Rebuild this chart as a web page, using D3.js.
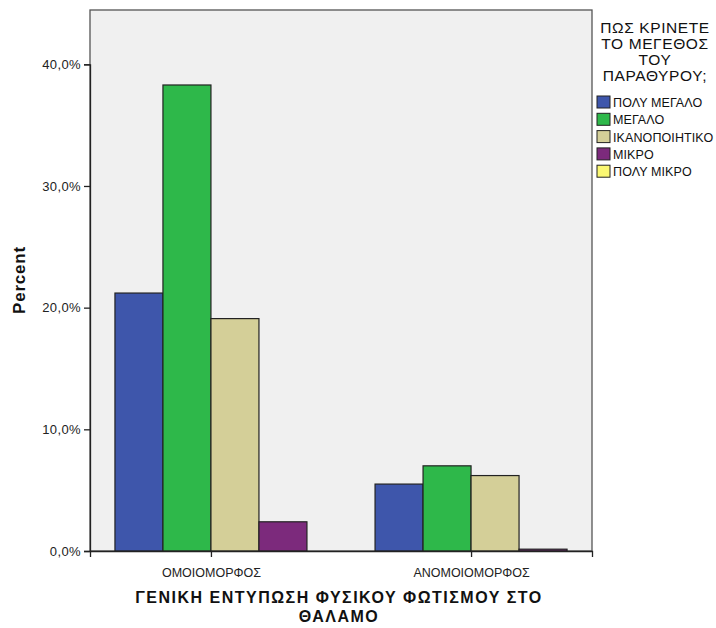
<!DOCTYPE html>
<html>
<head>
<meta charset="utf-8">
<script src="https://cdn.jsdelivr.net/npm/d3@7"></script>
<style>
  html, body { margin: 0; padding: 0; background: #fff; }
  svg { display: block; font-family: "Liberation Sans", Arial, sans-serif; }
</style>
</head>
<body>
<svg id="chart" width="716" height="628"></svg>
<script>
// Categories on the x axis
const categories = ["ΟΜΟΙΟΜΟΡΦΟΣ", "ΑΝΟΜΟΙΟΜΟΡΦΟΣ"];
// Series (answers to the legend question)
const seriesNames = ["ΠΟΛΥ ΜΕΓΑΛΟ", "ΜΕΓΑΛΟ", "ΙΚΑΝΟΠΟΙΗΤΙΚΟ", "ΜΙΚΡΟ", "ΠΟΛΥ ΜΙΚΡΟ"];
const seriesColors = ["#3e56ab", "#2eb84a", "#d4cf98", "#7c2a7c", "#fbf872"];
// Percent values per series, one entry per category (null = no bar)
const polyMegalo = [21.2, 5.5];
const megalo = [38.3, 7.0];
const ikanopoiitiko = [19.1, 6.2];
const mikro = [2.4, 0.15];
const polyMikro = [null, null];
const seriesValues = [polyMegalo, megalo, ikanopoiitiko, mikro, polyMikro];
// Axis ticks
const yTicks = [0, 10, 20, 30, 40];
const legendTitle = ["ΠΩΣ ΚΡΙΝΕΤΕ", "ΤΟ ΜΕΓΕΘΟΣ", "ΤΟΥ", "ΠΑΡΑΘΥΡΟΥ;"];
const xTitle = ["ΓΕΝΙΚΗ ΕΝΤΥΠΩΣΗ ΦΥΣΙΚΟΥ ΦΩΤΙΣΜΟΥ ΣΤΟ", "ΘΑΛΑΜΟ"];
const yTitle = "Percent";

const svg = d3.select("#chart");
const plot = { left: 90, top: 10, right: 592, bottom: 551 };

const y = d3.scaleLinear().domain([0, 40]).range([plot.bottom, 64.3]);
const x = d3.scalePoint().domain(categories).range([plot.left, plot.right]).padding(0.465);

// Only series that have data occupy a slot within each cluster
const barSeries = seriesNames.filter((s, i) => seriesValues[i].some(v => v != null));
const clusterWidth = 192;
const xs = d3.scaleBand().domain(barSeries).range([-clusterWidth / 2, clusterWidth / 2]);

// Plot background
svg.append("rect")
  .attr("x", plot.left).attr("y", plot.top)
  .attr("width", plot.right - plot.left).attr("height", plot.bottom - plot.top)
  .attr("fill", "#f0f0f0").attr("stroke", "#555").attr("stroke-width", 1.3);

// Bars
const bars = [];
seriesNames.forEach((s, si) => {
  categories.forEach((c, ci) => {
    const v = seriesValues[si][ci];
    if (v != null && barSeries.includes(s)) bars.push({ s, si, c, v });
  });
});
svg.append("g").selectAll("rect").data(bars).join("rect")
  .attr("x", d => x(d.c) + xs(d.s))
  .attr("width", xs.bandwidth())
  .attr("y", d => y(d.v))
  .attr("height", d => y(0) - y(d.v))
  .attr("fill", d => seriesColors[d.si])
  .attr("stroke", "#222").attr("stroke-width", 1.2);

// Y axis
const yAxis = svg.append("g").attr("transform", `translate(${plot.left},0)`)
  .call(d3.axisLeft(y).tickValues(yTicks).tickSize(6).tickPadding(3)
    .tickFormat(d => d3.format(".1f")(d).replace(".", ",") + "%"));
yAxis.select(".domain").attr("stroke", "#222").attr("stroke-width", 1.3);
yAxis.selectAll(".tick line").attr("stroke", "#222").attr("stroke-width", 1.3);
yAxis.selectAll(".tick text").attr("font-size", 13).attr("fill", "#222")
  .attr("letter-spacing", 0.4)
  .attr("font-family", "Liberation Sans, Arial, sans-serif");

// X axis
const xAxis = svg.append("g").attr("transform", `translate(0,${plot.bottom})`)
  .call(d3.axisBottom(x).tickSize(6).tickPadding(11));
xAxis.select(".domain").attr("stroke", "#222").attr("stroke-width", 1.3);
xAxis.selectAll(".tick line").attr("stroke", "#222").attr("stroke-width", 1.3);
xAxis.selectAll(".tick text").attr("font-size", 12.5).attr("fill", "#222")
  .attr("font-family", "Liberation Sans, Arial, sans-serif");

// Y title
svg.append("text")
  .attr("transform", "translate(25,280) rotate(-90)")
  .attr("text-anchor", "middle")
  .attr("font-size", 17).attr("font-weight", "bold").attr("fill", "#111")
  .attr("letter-spacing", 0.8)
  .text(yTitle);

// X title
svg.append("g").selectAll("text").data(xTitle).join("text")
  .attr("x", 339).attr("y", (d, i) => 603 + i * 19)
  .attr("text-anchor", "middle")
  .attr("font-size", 16).attr("font-weight", "bold").attr("fill", "#111")
  .attr("letter-spacing", 1.5)
  .text(d => d);

// Legend title
svg.append("g").selectAll("text").data(legendTitle).join("text")
  .attr("x", 655).attr("y", (d, i) => 33 + i * 16)
  .attr("text-anchor", "middle")
  .attr("font-size", 15.5).attr("fill", "#111")
  .attr("letter-spacing", 0.6)
  .text(d => d);

// Legend items
const legend = svg.append("g").selectAll("g").data(seriesNames).join("g")
  .attr("transform", (d, i) => `translate(597,${96 + i * 17.3})`);
legend.append("rect")
  .attr("x", 0).attr("y", 0).attr("width", 13).attr("height", 12)
  .attr("fill", (d, i) => seriesColors[i])
  .attr("stroke", "#222").attr("stroke-width", 1);
legend.append("text")
  .attr("x", 16).attr("y", 11)
  .attr("font-size", 12.5).attr("fill", "#111")
  .attr("letter-spacing", 0.1)
  .text(d => d);
</script>
</body>
</html>
